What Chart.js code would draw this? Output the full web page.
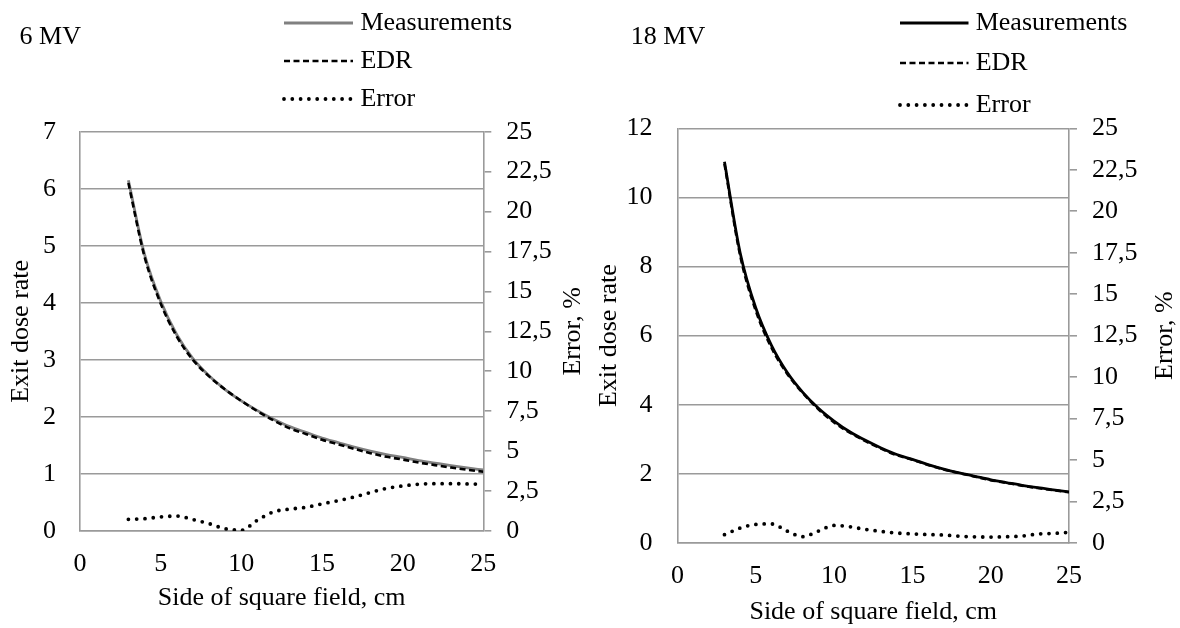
<!DOCTYPE html>
<html lang="en">
<head>
<meta charset="UTF-8">
<title>Exit dose rate, 6 MV and 18 MV</title>
<script src="https://cdn.jsdelivr.net/npm/chart.js"></script>
<style>
  html, body { margin: 0; padding: 0; background: #fff; }
  .charts { display: flex; width: 1180px; height: 628px; }
  .charts canvas { display: block; }
</style>
</head>
<body>
<div class="charts">
  <canvas id="chart6" width="590" height="628"></canvas>
  <canvas id="chart18" width="590" height="628"></canvas>
</div>
<script>
// side of square field, cm
const fieldSize = [3, 4, 5, 6, 7, 8, 9, 10, 11, 12, 13, 14, 15, 16, 17, 18, 19, 20, 21, 22, 23, 24, 25];

// 6 MV
const meas6 = [6.15, 4.85, 4.03, 3.44, 3.02, 2.72, 2.48, 2.28, 2.11, 1.96, 1.83, 1.73, 1.63, 1.55, 1.47, 1.40, 1.34, 1.29, 1.235, 1.19, 1.146, 1.107, 1.07];
const edr6 = [6.10, 4.81, 3.99, 3.41, 3.00, 2.71, 2.48, 2.28, 2.10, 1.94, 1.80, 1.70, 1.60, 1.52, 1.44, 1.365, 1.30, 1.253, 1.199, 1.155, 1.112, 1.074, 1.039];
const err6 = [0.73, 0.77, 0.88, 0.94, 0.72, 0.46, 0.14, 0.05, 0.68, 1.2, 1.37, 1.48, 1.7, 1.9, 2.13, 2.41, 2.67, 2.82, 2.93, 2.96, 2.96, 2.95, 2.93];

// 18 MV
const meas18 = [11.03, 8.40, 6.80, 5.72, 4.94, 4.36, 3.90, 3.53, 3.22, 2.97, 2.75, 2.56, 2.42, 2.27, 2.14, 2.03, 1.93, 1.83, 1.75, 1.67, 1.60, 1.54, 1.48];
const edr18 = [10.97, 8.32, 6.72, 5.65, 4.90, 4.34, 3.87, 3.49, 3.19, 2.95, 2.73, 2.54, 2.41, 2.26, 2.13, 2.02, 1.92, 1.82, 1.74, 1.66, 1.59, 1.53, 1.47];
const err18 = [0.5, 0.9, 1.12, 1.15, 0.72, 0.38, 0.72, 1.06, 0.98, 0.82, 0.7, 0.6, 0.55, 0.51, 0.48, 0.41, 0.37, 0.36, 0.38, 0.42, 0.54, 0.58, 0.64];

// tick values
const xTicks = [0, 5, 10, 15, 20, 25];
const dose6Ticks = [0, 1, 2, 3, 4, 5, 6, 7];
const dose18Ticks = [0, 2, 4, 6, 8, 10, 12];
const errorTicks = [0, 2.5, 5, 7.5, 10, 12.5, 15, 17.5, 20, 22.5, 25];

const GRID = '#9a9a9a';
const FONT = { family: "'Liberation Serif', 'Times New Roman', serif", size: 26 };
const FONT_CSS = "26px 'Liberation Serif', 'Times New Roman', serif";

function toPoints(values) {
    return fieldSize.map((x, i) => ({ x: x, y: values[i] }));
}

function useTicks(list) {
    return (scale) => { scale.ticks = list.map(v => ({ value: v })); };
}

// header label, legend and the right axis title (reads bottom to top)
const overlay = {
    id: 'overlay',
    afterDraw(chart, args, o) {
        const ctx = chart.ctx;
        ctx.save();
        ctx.font = FONT_CSS;
        ctx.fillStyle = '#000';
        ctx.textBaseline = 'middle';
        ctx.textAlign = 'left';
        ctx.fillText(o.header, o.headerX, o.headerY);

        chart.data.datasets.forEach((ds, i) => {
            const y = o.rowsY[i];
            ctx.save();
            ctx.strokeStyle = ds.borderColor;
            ctx.lineWidth = ds.borderWidth;
            ctx.setLineDash(ds.borderDash || []);
            ctx.lineCap = ds.borderCapStyle || 'butt';
            ctx.beginPath();
            ctx.moveTo(o.lineX0, y);
            ctx.lineTo(o.lineX1, y);
            ctx.stroke();
            ctx.restore();
            ctx.fillText(ds.label, o.textX, y);
        });

        const a = chart.chartArea;
        ctx.translate(o.rightTitleX, (a.top + a.bottom) / 2);
        ctx.rotate(-Math.PI / 2);
        ctx.textAlign = 'center';
        ctx.fillText(o.rightTitle, 0, 0);
        ctx.restore();
    }
};

function buildChart(id, p) {
    return new Chart(document.getElementById(id), {
        type: 'line',
        data: {
            datasets: [
                { label: 'Measurements', data: toPoints(p.meas), borderColor: p.measColor, borderWidth: 2.8, yAxisID: 'y', order: 2 },
                { label: 'EDR', data: toPoints(p.edr), borderColor: '#000', borderWidth: 2.6, borderDash: [6, 3.5], yAxisID: 'y', order: 1 },
                { label: 'Error', data: toPoints(p.err), borderColor: '#000', borderWidth: 3.8, borderDash: [0, 8.3], borderCapStyle: 'round', yAxisID: 'y2', order: 0 }
            ]
        },
        plugins: [overlay],
        options: {
            responsive: false,
            animation: false,
            events: [],
            layout: { padding: { top: p.top, left: 0, right: 0, bottom: 0 } },
            elements: {
                point: { radius: 0 },
                line: { cubicInterpolationMode: 'monotone', fill: false }
            },
            plugins: {
                legend: { display: false },
                tooltip: { enabled: false },
                overlay: p.overlay
            },
            scales: {
                x: {
                    type: 'linear',
                    min: 0,
                    max: 25,
                    afterBuildTicks: useTicks(xTicks),
                    afterFit: (s) => { s.height = p.xHeight; },
                    grid: { display: false, drawTicks: false },
                    border: { color: GRID, width: 1.6 },
                    ticks: { font: FONT, color: '#000', padding: p.xPad, maxRotation: 0, autoSkip: false },
                    title: { display: true, text: 'Side of square field, cm', font: FONT, color: '#000', padding: { top: 0, bottom: p.xTitlePad } }
                },
                y: {
                    position: 'left',
                    min: 0,
                    max: p.doseTicks[p.doseTicks.length - 1],
                    afterBuildTicks: useTicks(p.doseTicks),
                    afterFit: (s) => { s.width = p.yWidth; },
                    grid: { color: GRID, lineWidth: 1.6, drawTicks: false },
                    border: { color: GRID, width: 1.6 },
                    ticks: { font: FONT, color: '#000', padding: p.yPad },
                    title: { display: true, text: 'Exit dose rate', font: FONT, color: '#000', padding: { top: p.yTitlePad, bottom: 0 } }
                },
                y2: {
                    position: 'right',
                    min: 0,
                    max: 25,
                    afterBuildTicks: useTicks(errorTicks),
                    afterFit: (s) => { s.width = p.y2Width; },
                    grid: { drawOnChartArea: false, color: GRID, lineWidth: 1.6, tickLength: 8 },
                    border: { color: GRID, width: 1.6 },
                    ticks: { font: FONT, color: '#000', padding: 15, callback: (v) => String(v).replace('.', ',') }
                }
            }
        }
    });
}

buildChart('chart6', {
    meas: meas6, edr: edr6, err: err6, measColor: '#808080', doseTicks: dose6Ticks,
    top: 131.7, xHeight: 97, yWidth: 80, y2Width: 106.7,
    xPad: 18, xTitlePad: 14.4, yPad: 24, yTitlePad: 5.2,
    overlay: {
        header: '6 MV', headerX: 19.6, headerY: 37,
        rowsY: [23, 61, 99], lineX0: 284, lineX1: 353, textX: 360.4,
        rightTitle: 'Error, %', rightTitleX: 573.6
    }
});

buildChart('chart18', {
    meas: meas18, edr: edr18, err: err18, measColor: '#000', doseTicks: dose18Ticks,
    top: 128.3, xHeight: 85, yWidth: 87.5, y2Width: 111,
    xPad: 17.4, xTitlePad: 0, yPad: 25, yTitlePad: 3.3,
    overlay: {
        header: '18 MV', headerX: 40.8, headerY: 37,
        rowsY: [23, 63, 105], lineX0: 310, lineX1: 378.5, textX: 385.7,
        rightTitle: 'Error, %', rightTitleX: 575.5
    }
});
</script>
</body>
</html>
